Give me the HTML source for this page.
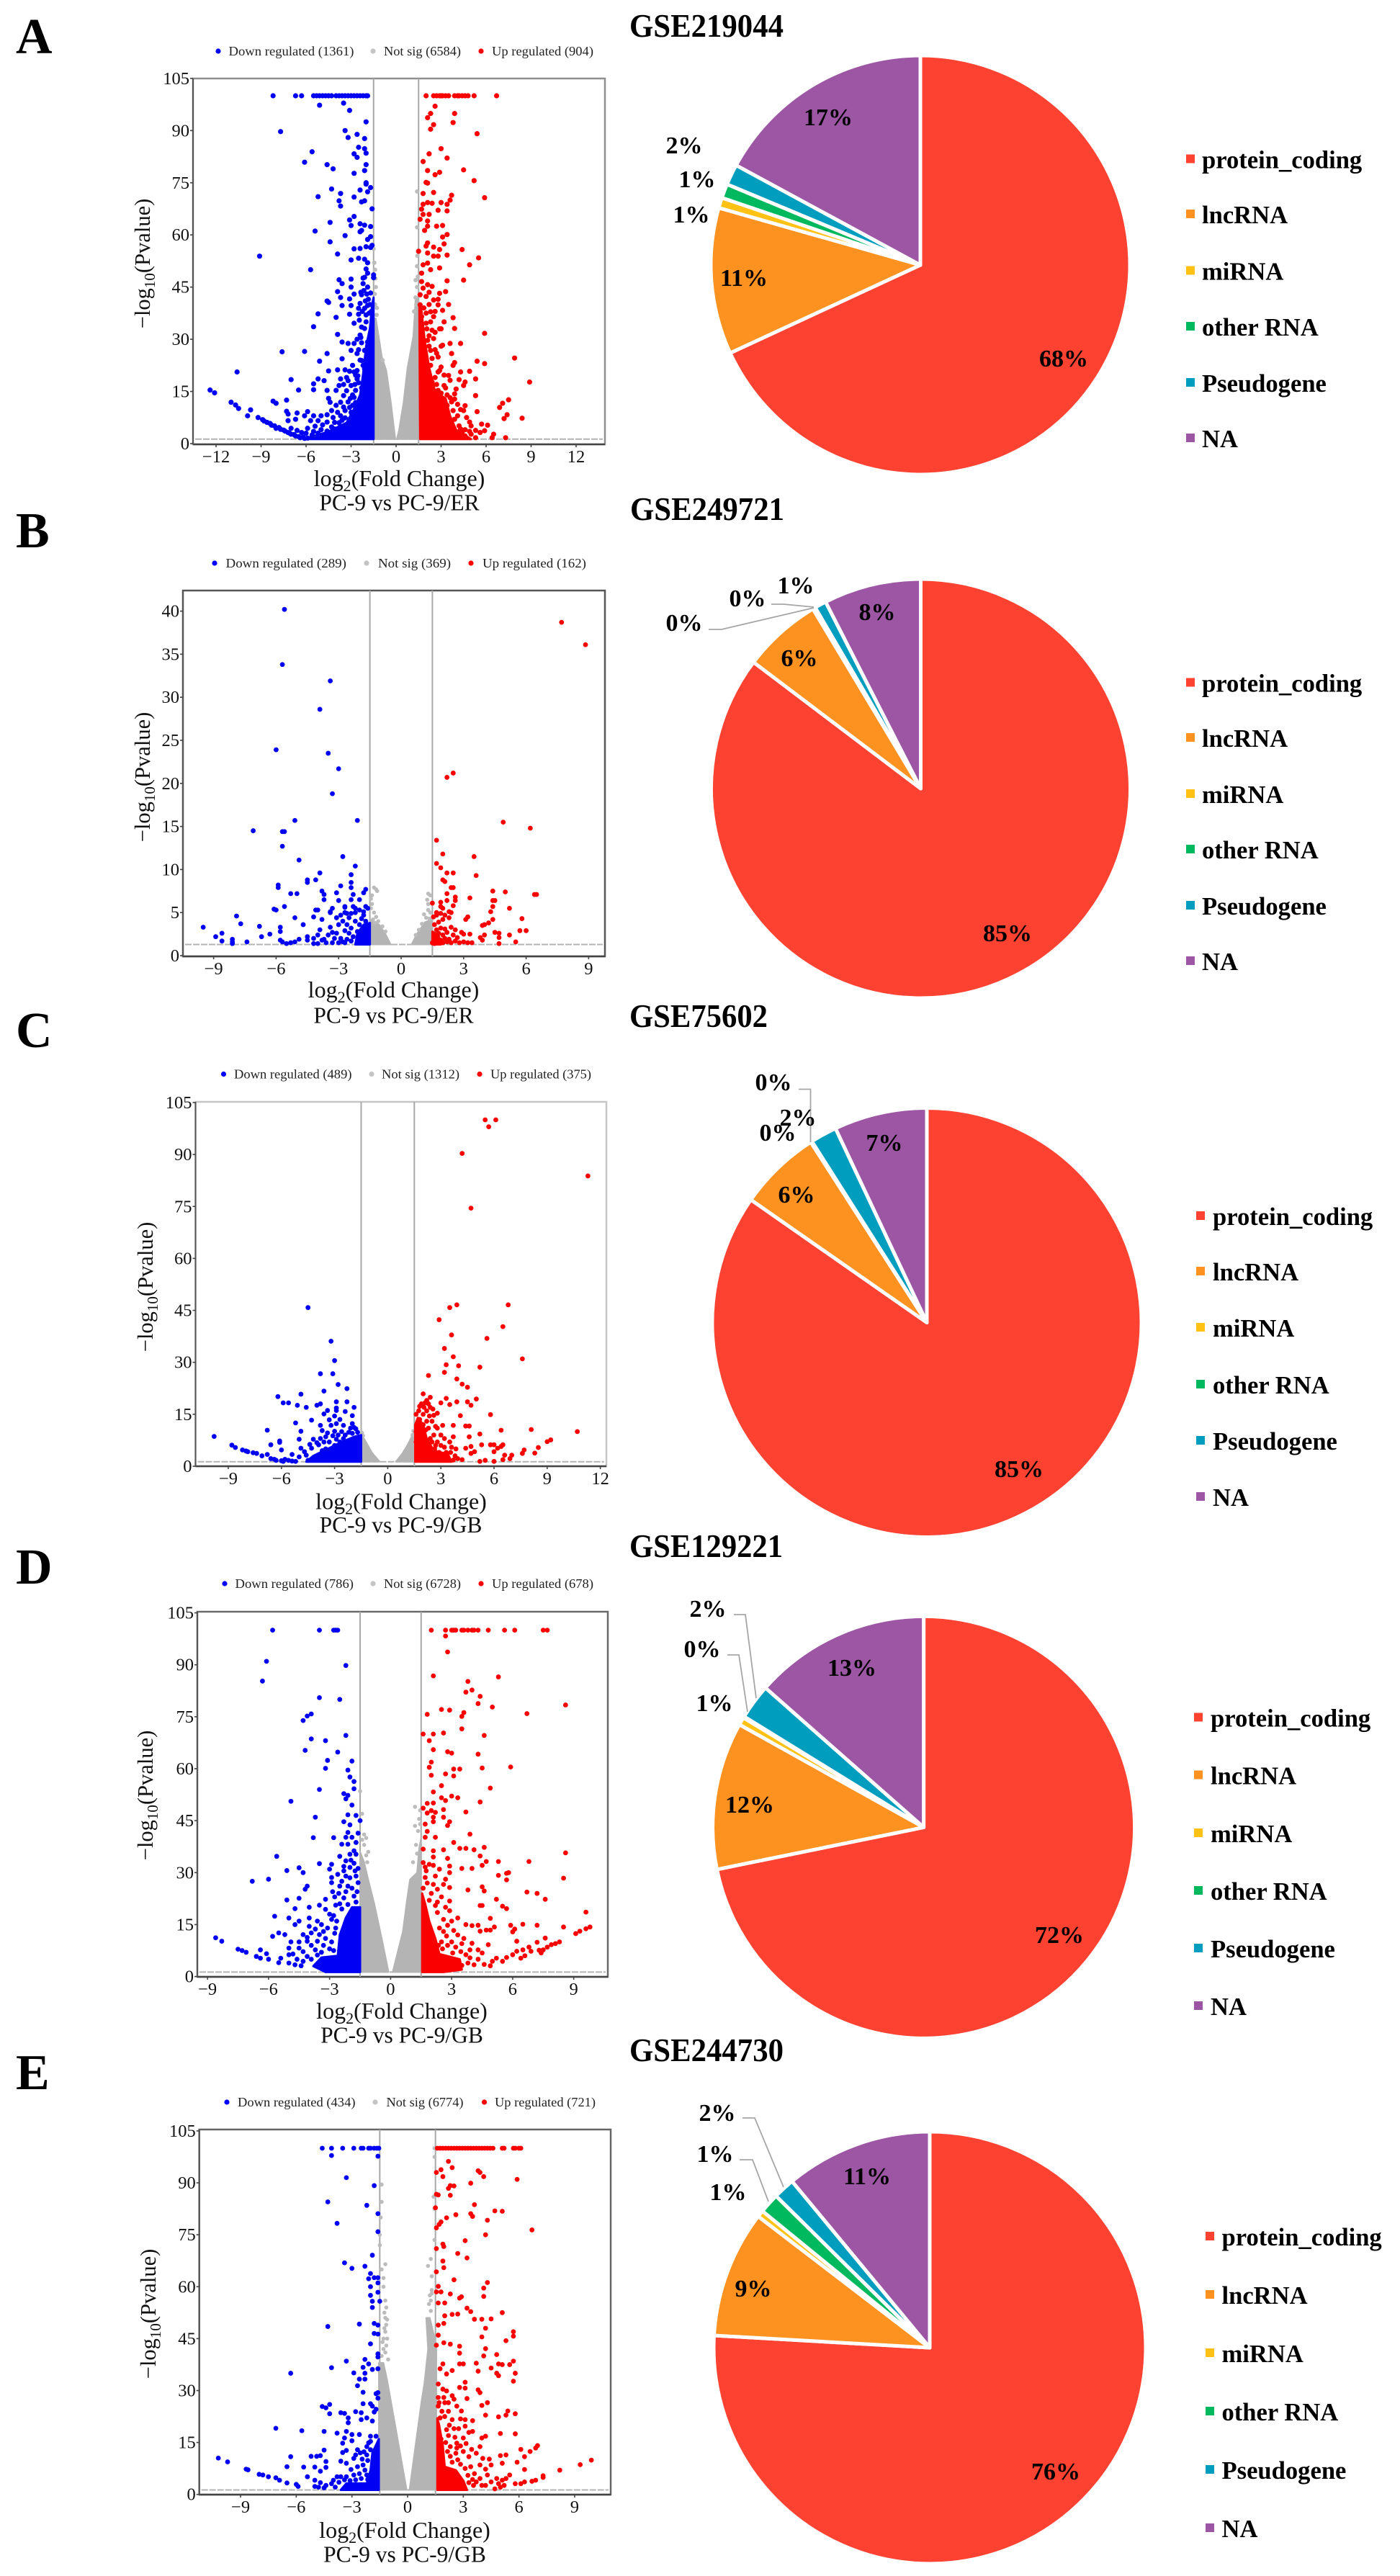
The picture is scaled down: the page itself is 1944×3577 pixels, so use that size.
<!DOCTYPE html>
<html lang="en">
<head>
<meta charset="utf-8">
<title>Volcano plots and RNA biotype pies</title>
<style>
html,body{margin:0;padding:0;background:#fff;}
svg{display:block;font-family:"Liberation Serif",serif;}
.letter{font-size:70px;font-weight:bold;}
.gse{font-size:45px;font-weight:bold;}
.lg{font-size:17.6px;fill:#222;}
.xt{font-size:32px;fill:#111;}
.st{font-size:31.5px;fill:#111;}
.yt{font-size:30.5px;fill:#111;}
.tk{font-size:24.5px;fill:#111;}
.pl{font-size:34px;font-weight:bold;fill:#000;}
.pg{font-size:34.6px;font-weight:bold;fill:#000;}
</style>
</head>
<body>
<svg id="figure" xmlns="http://www.w3.org/2000/svg" width="1944" height="3577" viewBox="0 0 1944 3577">
<rect x="0" y="0" width="1944" height="3577" fill="#fff"/>

<text class="letter" x="22" y="74">A</text>
<text class="letter" x="22" y="760">B</text>
<text class="letter" x="22" y="1454">C</text>
<text class="letter" x="22" y="2199">D</text>
<text class="letter" x="22" y="2901">E</text>

<text class="gse" x="874" y="51" textLength="214" lengthAdjust="spacingAndGlyphs">GSE219044</text>
<text class="gse" x="875" y="722" textLength="214" lengthAdjust="spacingAndGlyphs">GSE249721</text>
<text class="gse" x="874" y="1426" textLength="192" lengthAdjust="spacingAndGlyphs">GSE75602</text>
<text class="gse" x="874" y="2162" textLength="213" lengthAdjust="spacingAndGlyphs">GSE129221</text>
<text class="gse" x="874" y="2862" textLength="214" lengthAdjust="spacingAndGlyphs">GSE244730</text>

<!-- Volcano legends -->
<g>
<circle cx="303" cy="71" r="3.6" fill="#0000ff"/><text class="lg" x="317.5" y="77" textLength="174" lengthAdjust="spacingAndGlyphs">Down regulated (1361)</text>
<circle cx="518" cy="71" r="3.6" fill="#c4c4c4"/><text class="lg" x="533" y="77" textLength="107" lengthAdjust="spacingAndGlyphs">Not sig (6584)</text>
<circle cx="668" cy="71" r="3.6" fill="#ff0000"/><text class="lg" x="683" y="77" textLength="141" lengthAdjust="spacingAndGlyphs">Up regulated (904)</text>
</g>
<g>
<circle cx="298" cy="782" r="3.6" fill="#0000ff"/><text class="lg" x="313.5" y="788" textLength="167.5" lengthAdjust="spacingAndGlyphs">Down regulated (289)</text>
<circle cx="509" cy="782" r="3.6" fill="#c4c4c4"/><text class="lg" x="525" y="788" textLength="101" lengthAdjust="spacingAndGlyphs">Not sig (369)</text>
<circle cx="654" cy="782" r="3.6" fill="#ff0000"/><text class="lg" x="670" y="788" textLength="144" lengthAdjust="spacingAndGlyphs">Up regulated (162)</text>
</g>
<g>
<circle cx="310.5" cy="1491.5" r="3.6" fill="#0000ff"/><text class="lg" x="325" y="1497.5" textLength="163.5" lengthAdjust="spacingAndGlyphs">Down regulated (489)</text>
<circle cx="516" cy="1491.5" r="3.6" fill="#c4c4c4"/><text class="lg" x="530" y="1497.5" textLength="108" lengthAdjust="spacingAndGlyphs">Not sig (1312)</text>
<circle cx="666" cy="1491.5" r="3.6" fill="#ff0000"/><text class="lg" x="681" y="1497.5" textLength="140" lengthAdjust="spacingAndGlyphs">Up regulated (375)</text>
</g>
<g>
<circle cx="312" cy="2199" r="3.6" fill="#0000ff"/><text class="lg" x="326.5" y="2205" textLength="164.5" lengthAdjust="spacingAndGlyphs">Down regulated (786)</text>
<circle cx="518" cy="2199" r="3.6" fill="#c4c4c4"/><text class="lg" x="533" y="2205" textLength="107" lengthAdjust="spacingAndGlyphs">Not sig (6728)</text>
<circle cx="668" cy="2199" r="3.6" fill="#ff0000"/><text class="lg" x="683" y="2205" textLength="141" lengthAdjust="spacingAndGlyphs">Up regulated (678)</text>
</g>
<g>
<circle cx="315" cy="2919" r="3.6" fill="#0000ff"/><text class="lg" x="330" y="2925" textLength="163.5" lengthAdjust="spacingAndGlyphs">Down regulated (434)</text>
<circle cx="521" cy="2919" r="3.6" fill="#c4c4c4"/><text class="lg" x="536.5" y="2925" textLength="107" lengthAdjust="spacingAndGlyphs">Not sig (6774)</text>
<circle cx="672.5" cy="2919" r="3.6" fill="#ff0000"/><text class="lg" x="687" y="2925" textLength="140" lengthAdjust="spacingAndGlyphs">Up regulated (721)</text>
</g>

<!-- Axis titles -->
<text class="yt" text-anchor="middle" transform="translate(208,366) rotate(-90)">−log<tspan font-size="21" dy="7">10</tspan><tspan dy="-7">(Pvalue)</tspan></text>
<text class="xt" x="554.5" y="675" text-anchor="middle">log<tspan font-size="22" dy="7">2</tspan><tspan dy="-7">(Fold Change)</tspan></text>
<text class="st" x="554.5" y="708.5" text-anchor="middle">PC-9 vs PC-9/ER</text>

<text class="yt" text-anchor="middle" transform="translate(208,1079) rotate(-90)">−log<tspan font-size="21" dy="7">10</tspan><tspan dy="-7">(Pvalue)</tspan></text>
<text class="xt" x="546.5" y="1385" text-anchor="middle">log<tspan font-size="22" dy="7">2</tspan><tspan dy="-7">(Fold Change)</tspan></text>
<text class="st" x="546.5" y="1420.5" text-anchor="middle">PC-9 vs PC-9/ER</text>

<text class="yt" text-anchor="middle" transform="translate(212,1787) rotate(-90)">−log<tspan font-size="21" dy="7">10</tspan><tspan dy="-7">(Pvalue)</tspan></text>
<text class="xt" x="557" y="2095.5" text-anchor="middle">log<tspan font-size="22" dy="7">2</tspan><tspan dy="-7">(Fold Change)</tspan></text>
<text class="st" x="556.5" y="2128" text-anchor="middle">PC-9 vs PC-9/GB</text>

<text class="yt" text-anchor="middle" transform="translate(212,2493) rotate(-90)">−log<tspan font-size="21" dy="7">10</tspan><tspan dy="-7">(Pvalue)</tspan></text>
<text class="xt" x="558" y="2803" text-anchor="middle">log<tspan font-size="22" dy="7">2</tspan><tspan dy="-7">(Fold Change)</tspan></text>
<text class="st" x="558" y="2836.5" text-anchor="middle">PC-9 vs PC-9/GB</text>

<text class="yt" text-anchor="middle" transform="translate(216,3213) rotate(-90)">−log<tspan font-size="21" dy="7">10</tspan><tspan dy="-7">(Pvalue)</tspan></text>
<text class="xt" x="562" y="3524" text-anchor="middle">log<tspan font-size="22" dy="7">2</tspan><tspan dy="-7">(Fold Change)</tspan></text>
<text class="st" x="562" y="3557.5" text-anchor="middle">PC-9 vs PC-9/GB</text>

<g id="plots"></g>
</svg>

<script>
// ---------- Shared categories ----------
const biotypeNames = ['protein_coding','lncRNA','miRNA','other RNA','Pseudogene','NA'];
const biotypeColors = ['#fd4232','#fe9220','#ffc114','#00b85e','#009dbe','#9c56a4'];
const thresholdFC = [-1.5, 1.5];
const thresholdP = 1.3;

// ---------- Pie values ----------
const pieAValues = [68.1,11.3,0.8,1.1,1.6,17.1];
const pieBValues = [85.3,6.1,0.1,0.1,0.9,7.5];
const pieCValues = [84.7,6.2,0.05,0.05,2,7];
const pieDValues = [71.8,11.3,0.6,0.1,2.7,13.5];
const pieEValues = [75.9,9.5,0.5,1.5,1.6,11];
const pieALabels = ['68%','11%','1%','1%','2%','17%'];
const pieBLabels = ['85%','6%','0%','0%','1%','8%'];
const pieCLabels = ['85%','6%','0%','0%','2%','7%'];
const pieDLabels = ['72%','12%','1%','0%','2%','13%'];
const pieELabels = ['76%','9%','1%','1%','2%','11%'];

// ---------- Tick labels ----------
const yTicks105 = [0,15,30,45,60,75,90,105];
const yTicks40 = [0,5,10,15,20,25,30,35,40];
const xTicksA = [-12,-9,-6,-3,0,3,6,9,12];
const xTicksB = [-9,-6,-3,0,3,6,9];
const xTicksC = [-9,-6,-3,0,3,6,9,12];
const xTicksD = [-9,-6,-3,0,3,6,9];
const xTicksE = [-9,-6,-3,0,3,6,9];

// ---------- Panel A values: [log2FC, -log10P] ----------
const aDown = [[-8.2,100],[-6.7,100],[-6.3,100],[-5.5,100],[-5.3,100],[-5.1,100],[-4.9,100],[-4.7,100],[-4.5,100],[-4.3,100],[-4,100],[-3.8,100],[-3.6,100],[-3.4,100],[-3.2,100],[-3,100],[-2.8,100],[-2.6,100],[-2.4,100],[-2.2,100],[-2,100],[-1.9,100],
[-5.1,97.3],[-3.5,97.9],[-3.1,95.8],[-2,92.5],[-7.7,89.7],[-3.4,90],[-2.6,88.9],[-3.2,88],[-2.1,87.7],[-2.5,85.2],[-2.1,84.8],[-5.6,83.9],[-2.8,83.3],[-2,83.5],[-2.6,82.3],[-6.1,80.9],[-4.6,80.2],[-4.2,79],[-2,80.2],[-2.1,78.5],[-2.8,77.7],[-2,75],[-2,74.6],[-1.7,73.6],[-4.3,73.2],[-2.4,72.9],[-1.9,72.4],[-3.7,71.9],[-5.2,71],[-2.8,70.9],[-3.8,69.8],[-2.1,69.8],[-2.3,69.5],[-3.7,68.3],[-1.6,67.5],[-2.8,65.3],[-3.1,64.3],[-4.4,63.6],[-2.4,63.2],[-3,62.7],[-2.1,62.8],[-1.7,62.4],[-2.3,61.3],[-5.4,61.1],[-2.4,60.9],[-3.4,59.8],[-1.7,59.5],[-1.9,58.7],[-4.4,58],[-2,56.6],[-2.8,56],[-2.4,56.1],[-1.7,56.4],[-1.6,57],[-3.9,54.5],[-9.1,53.9],[-3,52.8],[-2.5,53.3],[-2.1,53],[-1.9,52],[-5.7,50],[-2,50.2],[-1.9,49],[-2.1,47.8],[-1.5,47.7],
[-3.8,47.1],[-3,47.3],[-3.6,46],[-2.2,47.6],[-1.5,48.5],[-2.2,46],[-1.9,45],[-3,45],[-3.9,43.7],[-2.8,43],[-1.7,43.3],[-2.3,42.8],[-3.7,42],[-4.6,41],[-4.5,40.6],[-3.1,41.6],[-3.6,39.7],[-2.4,40.3],[-1.9,39.7],[-2.1,38.9],[-2.5,38.9],[-3,39.7],[-3.1,37.2],[-5.2,37.3],[-4,36.3],[-2.5,37.2],[-2,37],[-2.8,34.6],[-5.5,33.6],[-3.9,31.4],[-2,35],[-2.1,33.1],[-2.4,31.2],
[-3.6,29.2],[-3.2,28.8],[-2.8,28.8],[-2.3,29],[-1.9,29.2],[-3,26.8],[-7.6,26.4],[-6.1,26.5],[-4.6,25.9],[-2.6,25.9],[-2.1,26.8],[-3.6,24.4],[-5.1,23.7],[-2.3,23.9],[-1.7,24.4],[-10.6,20.6],[-4.5,20.9],[-3.9,21.2],[-3.1,20.8],[-2.8,20.6],[-2.1,21.5],[-7,18.4],[-5.2,18.6],[-4.8,18.1],[-3.7,18.6],[-3.2,18.1],[-2.6,18.6],[-1.9,19.6],[-5.5,17.2],[-3.8,16.7],[-3,16.7],[-2.1,17.2],[-6.5,15.4],[-5.5,15.5],[-4.6,15.3],[-12.4,15.4],[-12.1,14.6],[-4,15.3],[-2.7,15.3],[-3.5,13.8],[-4.5,13],[-2.8,13.3],[-11,11.9],[-7.3,12.5],[-8.2,12.2],[-8,11.6],[-4.4,11.9],[-3.7,11.9],[-10.7,11.1],[-10.5,10.1],[-9.7,9.7],[-9.9,8],[-7.3,9.3],[-7.2,8.5],[-6.6,8.8],[-5.9,9.2],[-6.1,8],[-5.5,8],[-5,8],[-4.6,8.3],[-3.7,8],[-5.7,6.6],[-5.2,6.6],[-6.7,7],[-7.2,6.6],[-4.1,6.1],
[-9.2,7.5],[-8.9,6.9],[-8.6,6.1],[-8.3,5.3],[-8.1,5.1],[-7.8,4.6],[-7.5,3.9],[-7.2,3.2],[-7,2.7],[-6.7,2.2],[-6.4,1.7],[-6.1,1.5],[-8.8,6.5],[-8.4,5.8],[-8,4.4],[-7.7,4.1],[-7.4,3.6],[-7.1,3],[-6.8,2.6],[-6.5,2],[-6.2,1.9],[-5.9,1.6],[-6,3],[-5.5,3.5],[-5,4],[-5.6,2.5],[-4.8,2.5],[-4.3,4.8],[-3.7,5],[-3.1,7],[-3,9],[-3.4,9.5],[-3.2,12],[-2.6,9],[-2.9,11],
[-2.3,16],[-2.5,17.5],[-2.6,21],[-2.4,24],[-2.5,27],[-2.35,30.5],[-2.6,30],[-2.3,33.5],[-2.45,35.5],[-2.25,38],[-2.05,41],[-2.15,44],[-2.35,43.5],[-1.85,41.5],[-1.8,37.5],[-2.2,22.5],[-2.7,19.7],[-2.9,14],[-3.3,15.2],[-3.5,17],[-3.3,19],[-3.4,21.2],[-2.9,22.5],[-2.7,11.8],[-3.1,10.4],[-3.5,10.5],[-4,11],[-4.3,9.5],[-3.9,9],[-4.2,7.5],[-3.6,6.7],[-4.6,6.2],[-4.9,5.4],[-5.4,5],[-5.9,4.4],[-5.2,3],[-4.6,3.6],[-4.1,4.2],[-3.8,6],[-3.4,7.4],[-2.95,8.6],[-6.3,3.2],[-6.6,3.8],[-7,4.4],[-1.75,40],[-1.65,38],[-1.95,43],[-2.55,19.5],[-2.75,17],[-3.05,13]];
const aDownDense = [[-1.5,1.3],[-6.2,1.3],[-4.6,3.3],[-3.3,6],[-2.8,10],[-2.4,14],[-2.2,20],[-2,28],[-1.75,33],[-1.6,40],[-1.5,42]];
const aUp = [[2,100],[2.5,100],[2.7,100],[2.9,100],[3,100],[3.1,100],[3.3,100],[3.5,100],[3.9,100],[4.1,100],[4.2,100],[4.4,100],[4.6,100],[4.8,100],[5.2,100],[6.7,100],
[2.6,97],[2.3,94.9],[3.9,94.9],[2.1,93.7],[3.8,92.3],[2.5,91.7],[2.3,90.4],[5.4,89.1],[3,84.8],[2.2,83.3],[3.4,82.1],[1.8,81.1],[4.5,78.7],[2.1,78.5],[2.9,78],[2.6,77.3],[5.2,75.6],[2,75.1],[2.1,74.9],[1.8,71.9],[2.5,72.2],[3.7,71.4],[5.9,70.7],[3.6,70],[1.8,68.8],[2.1,69.3],[2.4,69.1],[3,69.3],[3.4,68.8],[1.7,67.4],[2.8,67.1],[3.4,66.9],[1.8,65.9],[2.2,65.9],[1.6,64.5],[2.1,64],[2.1,62.5],[2.7,62.5],[3.1,62.7],[1.9,61.3],[3.4,60.1],[3.1,59.4],[2.1,57.7],[3.2,57.4],[2,56.8],[2.5,56.5],[2.9,55.8],[4.4,55.8],[1.5,55.3],[2.1,54.8],[2.5,53.9],[2.8,53.9],[3.4,54.2],[5.5,53.4],[4.9,51.4],[1.8,51.4],[2.1,51.9],[1.7,49],[2.3,50],[2.9,50.5],[4.5,47],[3.4,46.8],
[1.7,46.6],[2.1,45.7],[2.4,45.2],[1.8,44.7],[2.9,43.2],[1.6,42.8],[2,42.3],[2.5,41.3],[3.5,40],[1.6,39.9],[2.8,39.9],[2.3,37.9],[1.7,36.5],[3.8,36.2],[2.5,36.5],[2,34.6],[3.2,35],[3.9,33.1],[2.4,32.6],[5.9,31.7],[1.7,31.2],[2.1,29.7],[2.5,30.2],[4.3,28.8],[3.1,28.3],[3.6,28.8],[2.3,26.8],[3.7,25.9],[1.7,25.4],[2.8,24.9],[7.9,24.6],[5.4,23.7],[5.9,23],[3.9,23.3],[3.8,22.5],[2.3,22.5],[4.9,20.8],[4.3,20.6],[2.8,20.6],[3.5,19.6],[5.3,18.6],[4.2,18.4],[8.9,17.7],[4.6,17.7],[4.5,16.7],[2.4,17.7],[3.2,16.7],[4,15.7],[2.8,15.3],[5.3,13.8],[3.9,14.3],[7.5,12.6],[7.1,11.6],[6.9,10.4],[4.6,10.9],[5.4,9.2],[7.4,8.3],[7.2,7.2],[8.4,7.3],[4.5,9.5],[3.8,9.5],[5,5.1],[4.2,5.1],[5.7,5.6],[6.1,5.3],[5.9,3.7],[6.4,1.7],[7.3,1.7],[5.6,3.2],[5,2.7],[4.6,2.2],[3.8,3.7],[4.3,4.2],[6.5,2.7],[3.9,7],[5.3,1.7],[3.3,16],[3,22],[2.6,27],[2.2,31],[2.9,33],[3.4,11],[3.7,12],[4.1,8],[4.6,4],
[2.3,15.5],[2.7,17],[3,14.5],[3.4,14],[3.6,13.2],[2.6,19],[2.9,21],[3.2,19.7],[3.6,18.2],[3.9,12.8],[4.1,11.3],[4.3,9.8],[4.7,7.5],[4.9,6.2],[3.7,6],[4.4,3.2],[4.9,3.5],[5.3,3.8],[2.4,24.5],[2.7,26],[3,28],[2.2,28],[2.6,32],[2.3,35],[3,33],[2.6,38],[2.2,40],[2.8,41.5],[2.2,43.5],[3.3,43.7],[3.1,38.3],[2,37.5],[1.85,39],[2.05,33],[1.9,28]];
const aUpDense = [[1.6,1.3],[5,1.3],[4,4],[3.6,8],[3.3,13],[2.6,15],[2.2,22],[1.9,30],[1.7,38],[1.55,40]];
const aGray = [[-1.5,56],[-1.4,50],[-1.35,45],[-1.4,40],[-1.3,37],[-0.9,24],[-1.45,52],[-1.38,47.5],[-1.42,43],[-1.28,39],[1.4,72.5],[1.4,62.2],[1.4,51],[1.3,47],[1.4,45],[1.3,42],[1.2,38],[1.35,40],[1.45,48],[1.42,54]];
const aGrayLeft = [[-0.05,1.3],[-0.35,12],[-0.65,21],[-0.95,25],[-1.2,32],[-1.35,36],[-1.5,36],[-1.5,1.3]];
const aGrayRight = [[0.05,1.3],[1.5,1.3],[1.5,42],[1.3,42],[1.15,31],[0.75,21.5],[0.5,12],[0.2,4]];

// ---------- Panel B values ----------
const bDown = [[-5.6,40.2],[-5.7,33.8],[-3.4,31.9],[-3.9,28.6],[-6,23.9],[-3.5,23.5],[-3,21.7],[-3.3,18.8],[-5.1,15.7],[-2.1,15.7],[-7.1,14.5],[-5.7,14.4],[-5.6,14.4],[-5.7,12.7],[-4.9,11.1],[-2.8,11.5],[-2.2,10.4],[-3.9,9.6],[-2.4,9.4],[-4.5,8.8],[-4.1,8.8],[-4.5,8.5],[-2.4,8.5],[-5.9,8.2],[-5.9,7.9],[-2.9,8.1],[-2.4,7.9],[-3.8,7.5],[-1.7,7.7],[-1.8,7.3],[-5.3,7.2],[-5,7.2],[-3.7,7.1],[-3.1,7.3],[-2.3,7.1],[-2,6.5],[-3.7,6.5],[-3,6.4],[-2.4,6.5],[-5.6,5.7],[-6.1,5.4],[-6,5.3],[-3.3,5.5],[-4.1,5.3],[-4,5.3],[-2.7,5.7],[-2.2,5.5],[-1.7,5.7],[-7.9,4.6],[-5.1,4.4],[-4.2,4.5],[-3.4,5.1],[-3.1,4.4],[-2.7,5],[-2.4,4.9],[-2,5.3],[-1.8,4.7],[-3.8,4.2],[-7.7,3.7],[-4.7,3.6],[-6.8,3.4],[-9.5,3.3],[-5.8,3.3],[-5.8,2.8],[-6.3,2.5],[-8.6,2.6],[-8.9,2.2],[-6.7,2.2],[-8.6,1.7],[-8.1,1.9],[-8.1,1.6],[-7.4,1.6],[-8.1,1.4],[-5.8,1.8],[-5.7,1.6],[-5.5,1.4],[-5.3,1.5],[-5.1,1.6],[-4.9,1.9],[-4.5,2.2],[-4.5,1.8],[-4.2,2],[-4,2.4],[-4.2,1.4],[-3.9,3],[-3.8,1.8],[-4,1.4],
[-3.4,3.3],[-3.3,2.7],[-3.2,2],[-3.1,2.6],[-3,3.6],[-2.9,2],[-2.8,4],[-2.8,1.6],[-2.7,2.9],[-2.6,1.9],[-2.6,3.6],[-2.5,4.4],[-2.5,2.6],[-2.4,1.7],[-2.4,3.2],[-2.3,2.2],[-2.2,4],[-2.2,5],[-2.1,2.8],[-2,3.6],[-2,1.8],[-1.9,4.3],[-1.9,2.6],[-1.8,3.3],[-1.8,5.1],[-1.7,2],[-1.7,4],[-1.6,3],[-1.6,5.5],[-3.6,1.5],[-3.3,1.5],[-3,1.5],[-2.7,1.5],[-3.5,2.4],[-3.7,1.9],[-3.4,5],[-2.9,4.7],[-2.7,5.6],[-2.3,5.7],[-2.6,4.9],[-3.1,4.4]];
const bDownDense = [[-1.5,1.3],[-2.2,1.3],[-2.1,2.6],[-1.8,3.6],[-1.5,3.8]];
const bUp = [[7.7,38.7],[8.85,36.1],[2.5,21.2],[2.2,20.7],[4.9,15.5],[6.2,14.8],[1.7,13.4],[2,11.8],[3.5,11.5],[1.7,10.7],[1.9,10.2],[2.2,9.6],[2.5,9.6],[3.6,9.3],[2,8.8],[2.1,8.6],[2.4,7.9],[2.5,7.9],[4.4,7.5],[5,7.4],[6.5,7.1],[6.4,7.1],[2.2,7.2],[2.6,6.8],[3.3,6.7],[2.2,6.4],[2.6,6.4],[4.4,6.4],[4.5,6.4],[1.5,6.1],[1.9,6.2],[2.5,5.8],[1.9,5.7],[4.4,5.7],[5.2,5.5],[4.3,5.1],[2.3,5.1],[1.9,4.9],[2.1,4.7],[1.7,4.7],[4.4,4.2],[5.8,4.3],[3.2,4.5],[3.1,4.2],[4.2,3.8],[3.9,3.5],[4,3.6],[5.7,2.9],[6,2.9],[4.5,2.7],[4.7,2.6],[4,2.4],[5.2,2.4],[4.7,2.1],[3.8,2.1],[3,2.5],[3.3,2.5],[4.7,1.4],[5.5,1.6],[3.9,1.8],
[1.5,1.5],[1.6,2.5],[1.6,3.6],[1.6,1.8],[1.7,2.1],[1.7,3],[1.8,1.5],[1.8,3.9],[1.8,2.6],[1.9,1.8],[1.9,3.2],[2,1.5],[2,2.4],[2,4.2],[2.1,2],[2.1,3.1],[2.2,1.6],[2.2,2.7],[2.3,4.4],[2.3,1.9],[2.4,3.3],[2.4,1.5],[2.5,2.4],[2.6,1.7],[2.6,3],[2.7,2.1],[2.8,1.5],[2.9,2.7],[3,1.6],[3.2,1.5],[3.4,1.5],[1.55,4.5],[1.7,5],[2,5.5],[2.4,5],[1.6,1.4]];
const bUpDense = [[1.5,1.3],[1.9,1.3],[1.8,2.4],[1.5,2.8]];
const bGray = [[-1.3,7.9],[-1.2,7.7],[-1.15,7.5],[-1.4,7],[-1.4,6],[-1.3,5],[-1.2,4.5],[-1.45,5.5],[-1.1,4],[-0.9,3.4],[-1.35,4.2],[-1.45,6.6],[-1.25,3.8],[-0.75,2.8],[1.3,7.2],[1.4,7],[1.25,6.5],[1.3,6],[1.3,5.3],[1.1,4.8],[1.4,5],[1.2,4.4],[1,3.7],[0.85,3],[1.35,4.3],[0.7,2.4]];
const bGrayLeft = [[-1.5,1.3],[-0.5,1.3],[-0.75,2.5],[-1.05,3.6],[-1.5,4.2]];
const bGrayRight = [[0.5,1.3],[1.5,1.3],[1.5,4.2],[1.15,3.9],[0.75,2.5]];

// ---------- Panel C values ----------
const cDown = [[-4.5,45.8],[-3.2,36.1],[-3,30.5],[-3.8,26.7],[-3.1,26.7],[-2.8,23.6],[-2.3,22.4],[-3.6,21.7],[-4.9,20.8],[-6.2,20.1],[-5.9,18.3],[-5.6,18.3],[-5.1,17.6],[-4,17.6],[-3.8,18],[-2.9,18.6],[-2.3,18.6],[-4.6,17],[-1.9,17],[-2.9,16.8],[-3.4,16.1],[-2.9,16.1],[-2.4,15.8],[-3.6,15.1],[-3,14.5],[-2,14.6],[-4.3,13.3],[-5.2,12.5],[-3.8,11.8],[-3.2,11.8],[-2.9,12.3],[-2.5,11.8],[-2,12.3],[-6.8,10.4],[-4.9,10.1],[-3.7,10.3],[-3,10.1],[-1.8,10.8],[-2.2,9.8],[-6.1,7.3],[-6.1,6.9],[-5,7.8],[-4.2,7.8],[-3.5,8.5],[-9.8,8.6],[-8.8,6.1],[-8.6,5.4],[-8.2,4.7],[-7.9,4.2],[-7.4,3.7],[-7.1,3],[-6.8,3.4],[-6.6,6.2],[-6,4.7],[-5.4,3.4],[-4.9,5.2],[-6.6,2.2],[-6.3,1.7],[-5.9,1.4],[-5.6,1.7],[-5.2,1.4],[-5,2.7],[-4.6,3.2],[-4.3,5.2],[-3.9,6.2],[-4.5,1.7],[-4.2,2.2],[-3.5,5],[-3,6],[-2.5,8],[-2.8,9],[-2,9.5],[-3.3,7],[-2.7,7],[-3.7,4.5],[-7.6,3.9],[-8,4.4],[-6.4,2],[-6,1.6],[-5.8,2],[-5.4,1.5],
[-2.6,10],[-2.4,9],[-3.1,8.8],[-3.4,9.6],[-3.8,8],[-4,6.8],[-4.4,6.3],[-4.7,4.2],[-3.6,7],[-2.9,7.8],[-2.1,11],[-1.7,9.8],[-1.9,11.2],[-2.7,13.5],[-3.3,13.4]];
const cDownDense = [[-1.5,1.3],[-4.6,1.3],[-4.2,3],[-3.4,5],[-2.6,7],[-1.9,8.5],[-1.5,9]];
const cUp = [[5.5,100],[6.1,100],[5.7,98],[4.2,90.3],[11.3,83.8],[4.7,74.5],[3.9,46.6],[6.8,46.6],[3.5,45.8],[2.9,42.3],[6.5,40.3],[3.6,37.9],[5.6,36.9],[3.2,34],[3.7,31.6],[7.6,31],[3.3,29.3],[4,29],[5.2,28.6],[3.2,27.1],[2.3,26.2],[3.9,25.2],[4.2,23.7],[4.5,22.8],[2,20.9],[2.4,19.9],[3.3,19.6],[5,19.4],[3.9,18.6],[4.5,18.6],[3,18.3],[4.7,17.6],[3.5,17.8],[1.8,17.3],[2.1,18.3],[5.8,14.9],[4.1,14.6],[2.8,15.3],[4.4,11.6],[4.6,11.6],[3.7,11.8],[3.1,11.8],[8.1,10.6],[6.4,10.4],[10.7,10],[5.2,9.3],[4.6,8.5],[9.2,7.6],[9,7.1],[8.5,5.4],[8.3,3.8],[7.7,4.7],[7.6,3.7],[7,3.2],[6.9,2.2],[6.5,6.2],[5.8,6.2],[6,6.2],[6.2,5.2],[6.4,5.7],[6,4.2],[5.3,6.2],[4.7,5.7],[4.4,5.2],[4.9,4.2],[4.7,3.7],[4.2,1.9],[5.2,1.4],[5.5,1.7],[6,1.4],[6.5,1.9],[6.6,3.2],
[1.6,10],[1.7,12],[1.8,13.5],[2,15],[2.2,16],[1.7,8],[2,9],[2.3,11],[2.6,9],[2.8,11],[3,9],[3.2,8],[3,6],[3.5,7],[2.7,6],[3.3,4],[3.6,5.5],[1.9,18],[2.4,17],[2.2,19],[2.5,13],[2.8,7],[3.8,3],[3.4,2.5],[2,12],[1.6,7],[2.5,7],[2.2,13],[3.1,2.5],[2.9,4],[3.7,8.5],
[1.6,15],[1.75,16],[1.85,11],[2.15,10.5],[2.35,14.5],[2.55,16.5],[2.7,11.5],[2.4,8],[2.65,5],[3.2,5.5],[3.55,4],[3.85,5],[3.7,1.8],[3.95,2.2],[2.05,17],[2.3,18],[2.6,14.7]];
const cUpDense = [[1.55,1.3],[3.6,1.3],[3.4,3.5],[2.6,4.5],[2.2,8],[2,12],[1.7,14],[1.55,12]];
const cGray = [[-1.45,9.6],[-1.4,8.8],[1.45,10.2],[1.4,9]];
const cGrayLeft = [[-1.5,1.3],[-0.45,1.3],[-0.9,4],[-1.5,9.5]];
const cGrayRight = [[0.45,1.3],[1.5,1.3],[1.5,10],[1.1,6],[0.8,3.5]];

// ---------- Panel D values ----------
const dDown = [[-5.8,100],[-3.5,100],[-2.8,100],[-2.7,100],[-2.6,100],[-6.1,91],[-2.2,89.8],[-6.3,85.3],[-3.5,80.5],[-2.5,80],[-3.9,75.8],[-4.1,75.2],[-4.3,73.9],[-3.9,68.6],[-3.2,68.1],[-2.2,69.6],[-4.2,65.3],[-2.6,64.8],[-3.1,62.4],[-1.9,62.2],[-3.2,60.1],[-2.1,59.6],[-2,57.6],[-1.8,56.3],[-3.5,54],[-1.8,54.2],[-2.3,52.8],[-2.1,52.3],[-2.2,51.3],[-4.9,50.6],[-1.9,49.5],[-2.1,46.7],[-1.7,46.5],[-3.7,46],[-1.5,45],[-2.3,44.7],[-2,43.8],[-1.6,41.4],[-2.1,41.6],[-3.8,40.1],[-2.8,40.1],[-2.2,40.2],[-1.9,40.2],[-2.4,38.2],[-2.1,38.2],[-1.7,38.7],[-1.8,36.3],[-1.7,35.3],[-2,35.3],[-2.5,34.7],[-5.6,34.7],[-2.2,33.4],[-2.9,32.4],[-3.5,32.6],[-1.8,32.7],[-3,31],[-5.1,30.6],[-4.5,31.4],[-4.3,30],[-2.3,30.5],[-6.8,27.5],[-6,28.1],[-2.9,28.6],[-2.2,29],[-1.7,29],[-4.1,26.1],[-4.2,25.2],[-2.9,27.1],[-2.5,26.1],[-1.6,27.1],[-2.1,26.1],[-5.1,22.1],[-4.5,22.6],[-3.2,22.3],[-2.3,22.7],[-1.8,23.2],[-4.7,19.6],[-4,20],[-3.5,20.6],[-2.7,20.6],[-2.1,20.8],[-3.2,19.4],[-5.7,17.4],[-5,16.9],[-4,16.9],[-3.6,16],[-4.5,16],[-2.9,16.5],[-4.7,15],[-4,14.5],[-3.4,15],[-5.8,11.6],[-5.5,12.6],[-5.2,12.1],[-8.6,11.2],[-8.3,10.2],[-4.9,10],[-4.3,12.1],[-3.9,12.6],[-3.5,12.1],[-4.1,10.2],[-3.6,10.2],[-5,8.2],[-4.5,8.2],[-7.5,7.9],[-7.3,7.5],[-7.1,7],[-6.4,7.7],[-6.1,6.6],[-6.6,5.8],[-6.4,5.3],[-6,5],[-5.4,5.3],[-5,6.3],[-4.6,5],[-5.5,4],[-5,3.9],[-4.4,3.1],[-4.7,3.4],[-4.1,5.8],[-3.7,7.7],[-3,18],[-2.7,14],[-3.2,11],[-3,8],[-3.3,9],
[-2.5,21],[-2.2,24.5],[-1.9,25.5],[-2.4,27.5],[-2,28.5],[-2.6,29.5],[-2.3,31.8],[-2,31.5],[-2.55,24],[-2.85,24.5],[-2.75,23],[-2.4,19.5],[-2.8,17.6],[-3.1,14],[-3.3,13],[-3.7,13.7],[-4.1,11.3],[-4.5,10],[-3.9,9],[-3.4,7],[-4.3,7.2],[-4.8,6.5],[-3.9,5],[-4.3,4.4],[-3.6,6.2],[-2.8,7.5],[-2.9,10],[-2.75,12.5],[-2.65,16],[-1.7,21.5],[-1.65,24.5],[-1.75,30.5],[-1.95,33.6],[-1.6,31.2]];
const dDownDense = [[-1.5,1.3],[-3.2,1.3],[-3.8,3],[-3.4,5.5],[-2.6,6],[-2.5,12],[-2.2,17],[-1.9,20],[-1.5,20]];
const dUp = [[2,100],[2.7,100],[3,100],[3.1,100],[3.2,100],[3.5,100],[3.6,100],[3.8,100],[4,100],[4.1,100],[4.3,100],[4.8,100],[5.6,100],[6.1,100],[7.5,100],[7.7,100],
[2.7,98.3],[2.8,93.7],[2.1,86.8],[5.3,86.5],[3.8,85.2],[4,82.7],[3.7,82.1],[4.4,80.9],[4.3,78.8],[5,77.8],[8.6,78.4],[2.5,77.1],[2.9,76.9],[1.8,75.7],[3.6,76.2],[3.5,75.1],[6.7,75.9],[3.5,71.5],[2.6,70.3],[1.6,70],[2.1,70],[4.6,69.6],[1.9,68.1],[2.1,65.5],[2.8,64.9],[3,64.5],[4.3,64.2],[2,61.9],[1.9,60.4],[3.1,59.9],[3.4,59.9],[4.5,60.2],[5.9,60.5],[2.7,58.5],[2,58.1],[3.1,57.9],[2.5,55.1],[4.9,54.4],[2.1,53.3],[3,52.1],[3.3,51.6],[2.5,51.6],[2.7,50.8],[2.1,50.1],[1.8,50],[4.4,50.4],[1.6,48.6],[2.6,48.2],[3.7,47.5],[2,47.9],[1.8,47.2],[2.2,47.4],[2.6,46],[2.1,46],[1.7,44],[2.9,44.7],[2.8,43.6],[2.1,44.7],[3.9,41.1],[1.8,41.9],[1.7,40.2],[2.2,40.2],[3.1,38.7],[1.6,36.8],[2.1,36.3],[2.6,36.6],[3.4,37],[3.7,37],[4.1,36.6],[4.6,37.3],[8.6,35.7],[4.4,34.8],[2.8,34.1],[4.7,33.2],[5.3,33.2],[6.8,33.2],[1.6,32.9],[1.9,32.4],[2.1,32.1],[2.9,31.9],[4.5,32.1],[3.5,31.2],[4,31.2],[5.8,30],[5.7,29.8],[5.3,29.2],[2.9,30],[8.5,28.4],[5.7,27.9],[1.7,28.6],[2.7,28.1],[2.1,26.6],[2.6,26.6],[4.5,25.9],[4.6,24.7],[3.8,25],[6.7,24.4],[7.2,24],[2.9,25.7],[2.3,25.2],[7.6,22.3],[5.2,22.3],[2.9,21.8],[4.4,20.5],[4.5,20.5],[5.5,20.3],[5.7,19.6],[9.6,18.6],[4.9,16.8],[3.3,16.9],[3.7,15],[6.5,15.1],[7.2,14.8],[5.9,14.8],[4.3,14.8],[4,14.7],[5.1,14.3],[8.5,14.3],[9.8,14.3],[9.6,13.8],[9.3,13.1],[9.1,12.4],[6.1,13.7],[6,12.9],[4.7,13.4],[4.9,13.4],[4.4,13.1],[7.6,11.1],[8.3,10],[8.1,9.5],[7.9,9.2],[7.7,8.5],[7.5,7.7],[7.3,7.6],[7.2,9.9],[6.8,8.5],[6.5,7.7],[6.2,10.2],[6.9,7.3],[7.4,6.8],[6.2,7.3],[6,6.3],[6.6,6],[6.4,5.3],[5.7,5.5],[5.5,4.4],[5.2,5.3],[5,4.4],[4.9,3.1],[4.3,7.7],[4.5,6.8],[4.8,9.2],[3.9,7.7],[3.7,6.3],[4.1,3.4],[3.8,3.9],[3,16],[2.7,20],[3,10],[2.6,13],[2.9,19],[2.5,23],[3.3,12],[3.2,8.5],
[2.3,18.5],[2.6,16.5],[2.4,14],[2.8,14.8],[3.1,13.3],[2.5,10],[2.8,9],[3.5,9.5],[2.3,21.5],[2,24],[1.8,27],[2.2,29],[2.4,31],[1.75,30.5],[2.1,34.5],[1.9,22],[2.2,20.5],[2.75,11.7],[2.35,9],[3.45,7.2],[3.9,5.4],[4.3,5],[4.6,3.5],[3.5,3.2],[3.05,6.8],[4,9.6],[3.6,11],[2.55,8],[1.6,25.5],[1.7,31.6]];
const dUpDense = [[1.55,1.3],[2.6,1.3],[3.5,2],[3.4,5],[2.4,6.5],[2.2,11],[1.9,16],[1.7,21],[1.55,24]];
const dGray = [[-1.5,53.5],[-1.4,47],[-1.3,41],[-1.2,40],[-1.3,38],[-1.1,36],[-1.2,35],[-1.4,39.5],[-1.15,33],[1.2,49],[1.45,48],[1.4,45.5],[1.2,43.5],[1.35,42],[1.45,44],[1.25,38],[1.1,33],[1.3,35.5]];
const dGrayLeft = [[-0.1,1.3],[-0.4,10],[-0.8,21],[-1.1,28],[-1.3,33],[-1.5,36],[-1.5,1.3]];
const dGrayRight = [[0.1,1.3],[1.5,1.3],[1.5,40],[1.4,37],[1.3,30],[0.95,28],[0.8,22],[0.6,13],[0.3,6]];

// ---------- Panel E values ----------
const eDown = [[-4.6,100],[-4.1,100],[-3.5,100],[-2.9,100],[-2.5,100],[-2.4,100],[-2.1,100],[-2,100],[-1.8,100],[-1.65,100],[-1.55,100],
[-4.1,97.9],[-1.6,97.7],[-3.3,91.5],[-1.8,89.2],[-4.3,84.5],[-2.2,83.5],[-1.6,81.1],[-3.8,78.3],[-1.6,75.9],[-1.9,69.1],[-3.4,66.9],[-3,65.3],[-2.3,65.9],[-2,63.8],[-1.8,62.6],[-1.6,62.6],[-2.1,62.3],[-1.6,61.1],[-2,60],[-1.6,58.4],[-2,57.5],[-1.9,55.8],[-1.5,55.8],[-1.9,54],[-4.3,48.5],[-2.6,49.2],[-1.8,49.4],[-1.6,48.9],[-1.8,46.5],[-1.6,46.3],[-2,43.5],[-1.6,40.6],[-1.6,39.7],[-3.3,38.5],[-2.3,39],[-4.1,36.6],[-2.4,36.7],[-2.1,37.7],[-1.9,36.1],[-1.6,36.3],[-6.3,35],[-2.9,35.1],[-2.3,35],[-2.6,33.3],[-2.3,33.3],[-2.7,31.4],[-1.7,29.1],[-2.4,29.5],[-1.6,29.4],[-1.6,27.8],[-4.2,26],[-4.6,25.4],[-4.4,25],[-2.4,26.2],[-2,26.2],[-1.9,25.5],[-1.7,24.6],[-3.6,23.6],[-3.4,23.4],[-4.2,23.3],[-2.8,23.9],[-2.5,23.6],[-1.8,23.8],[-3.2,22.1],[-2.5,21.6],[-2.2,22.1],[-1.9,21.2],[-3.2,20.7],[-7.1,19.1],[-5.7,18.4],[-4.5,18.2],[-3.8,17.7],[-3.3,18.2],[-3,17.3],[-2.6,17.3],[-2,16.8],[-1.7,16.8],[-3.4,16.3],[-3,15.5],[-3.5,14.8],[-2,15.3],[-2.2,13.8],[-4.5,12.8],[-3.3,12.7],[-2.7,12.9],[-2.8,11.4],[-3.5,12.1],[-2,12.9],[-6.3,10.9],[-5.2,11],[-4.9,11],[-4.7,11.2],[-4.4,9.5],[-3.6,9.6],[-2.9,10.4],[-2.2,11.4],[-10.2,10.5],[-9.7,9.4],[-6.5,8],[-5.6,7.9],[-5,7.9],[-4.4,7.8],[-8.7,7.3],[-8.6,7.1],[-8,5.8],[-7.8,5.6],[-7.5,5.1],[-7.1,4.8],[-6.9,4.1],[-6.5,3.3],[-6,2.9],[-5.9,2.3],[-5.4,5.1],[-4.7,6.7],[-5,4.1],[-4.7,3.4],[-5,2.3],[-4.8,2.1],[-4.5,1.9],[-4.4,2.6],[-4.1,3.1],[-3.8,5.1],[-3.6,5.1],[-3.3,5.1],[-2.9,5.6],[-3.9,2.1],[-4,4.1],[-2.7,8],[-2.4,8.5],[-2.6,6],[-2.2,5.6],
[-2.15,9.8],[-2.3,7],[-2.45,10.2],[-2.55,12],[-2.1,14.9],[-2.35,12.3],[-3.1,4],[-3.4,4.2],[-2.8,4.2],[-2.5,4.6],[-2.15,4.3],[-3.7,3.5],[-3.05,7.2],[-3.3,9]];
const eDownDense = [[-1.55,1.3],[-3.6,1.3],[-3.3,3.2],[-2.2,3.2],[-2,7],[-1.9,12],[-1.55,16]];
const eUp = [[1.6,100],[1.75,100],[1.9,100],[2.05,100],[2.2,100],[2.35,100],[2.5,100],[2.65,100],[2.8,100],[2.95,100],[3.1,100],[3.25,100],[3.4,100],[3.55,100],[3.7,100],[3.85,100],[4,100],[4.15,100],[4.3,100],[4.45,100],[4.6,100],[5.1,100],[5.2,100],[5.7,100],[5.8,100],[6,100],[6.1,100],
[2.2,96.2],[2.4,94.4],[1.8,93.8],[1.55,93],[3.8,93.5],[3.9,93],[1.9,91.8],[4.1,91.8],[5.9,91],[3.4,89.9],[2.3,89.2],[2.5,89.1],[2.2,88.4],[1.55,86.7],[1.65,86.5],[2.3,86.4],[3.6,83.7],[1.5,82.8],[4.7,81.9],[5.1,81.8],[3.4,81.1],[3.5,80.3],[2.6,80.8],[2.1,79.9],[4.3,79.2],[1.8,78.7],[1.7,78],[1.55,77],[6.7,76.4],[4.2,75],[3.1,73.3],[1.9,72.3],[1.95,71.6],[1.55,71],[2.7,69.6],[3.2,68.3],[1.9,67.4],[1.95,65.5],[1.55,64.3],[2.5,62],[4.3,61.2],[4.1,59.6],[1.65,60.1],[1.55,58.5],[1.8,58.5],[2.3,57.9],[2.9,57.1],[2.8,56.7],[4.1,57.2],[1.65,55.3],[2,55.3],[3.2,53.8],[3.4,52.8],[5.1,52.5],[2.7,52.1],[2.4,52],[2,51.6],[3.6,50.6],[4,50.6],[4.5,50.7],[1.95,49.4],[1.65,48.9],[4.2,48],[5.7,47],[5.7,45.7],[5.3,44.4],[4,45.5],[1.65,46],[1.95,43.8],[1.55,43.1],[2.3,43.4],[2.8,42.8],[4.2,42.1],[2.8,40.8],[4.8,40.4],[4.1,40],[3.7,37.9],[5.7,38.5],[5.5,37.5],[2.8,37.7],[3,37.7],[1.9,37.7],[4.9,37.7],[5.1,37.5],[1.75,36.3],[2.4,35.8],[3.8,35.6],[4.5,36.5],[4.8,35],[4.9,34.3],[5.8,35],[5.7,32.7],[2.1,34.8],[3.1,32.4],[1.65,31.9],[2.8,30.9],[3.1,30.7],[3.8,30.2],[3.9,29.4],[1.9,30.4],[2.1,29.9],[2.4,28.5],[3.2,27.7],[2.5,27.5],[4.3,26.5],[4,25.7],[1.65,28],[2,26.5],[1.65,25.5],[2.65,25.5],[2.9,24.1],[5.4,24.1],[5.3,22.9],[5.8,23.3],[4.9,22.4],[4.2,22.9],[3.5,21.3],[3.1,21.6],[1.75,22.1],[2.4,21.6],[3.1,19.7],[3.5,18.2],[5,17.6],[5.8,17.5],[3.3,17.9],[2.1,18.7],[4.2,16.8],[4,16.3],[3,16.3],[2.65,14.8],[3.9,13.8],[7,14.1],[6.9,13.4],[6.6,12.4],[6.1,13],[6.3,10.9],[5.9,9.3],[5.3,11.4],[5,11.2],[4.4,10.2],[4.5,8.5],[5.1,9],[9.9,9.9],[9.3,8.6],[8.2,7],[6.3,7.2],[4.2,7.3],[3.7,11.9],[3.3,10.9],[2.65,13.4],[3,12.4],[2.3,13.8],[7.3,5.4],[7.3,4.9],[6.9,4.1],[6.7,3.8],[6.3,3.6],[6.1,3.1],[5.8,3.1],[5.5,5.6],[5.3,4.6],[5.1,4.1],[4.8,4.6],[4.9,3.1],[4.5,3.6],[5.2,2.6],[5,2.1],[4.7,1.6],[4.2,2.6],[4.3,5.6],[3.9,4.6],[4,2.6],[3.7,3.6],[2.2,17],[2.5,19],[1.8,16],[2.2,24],[2.7,10],[3.4,8],[3.6,6],[2.3,11],
[2.05,15],[2.25,20],[2.55,16.5],[2.85,14],[2.4,9.3],[3.1,7.5],[3.25,5.5],[3.5,4.3],[2.85,8.7],[2,22.5],[1.85,24],[1.7,26.5],[1.95,28],[2.2,26.5],[2.75,19],[2.85,21.8],[3.15,14.7],[3.45,13],[3.9,8.5],[4.05,10.4],[3.55,2.6],[3.3,3.4],[2.6,11.9],[2.15,12.4]];
const eUpDense = [[1.6,1.3],[3.2,1.3],[3,4],[2.6,7],[2,8],[1.9,14],[1.7,20],[1.6,22]];
const eGray = [[-1.4,89.5],[-1.4,84.5],[-1.45,80],[-1.5,75],[-1.5,72],[-1.2,66.5],[-1.4,65],[-1.3,62.5],[-1.3,60],[-1.2,56],[-1.15,54],[-1.2,51],[-1.15,49],[-1.2,47],[-1.3,45],[-1.1,45],[-1.3,42],[-1.2,41],[-1.25,52.5],[-1.1,50.5],[-1.25,48],[-1.35,44],[-1.15,43],[-1.4,40],[-1.05,39],[1.45,100],[1.45,97.5],[1.4,86],[1.45,82.5],[1.45,73.5],[1.25,68],[1.1,66],[1.3,63],[1.3,59],[1.2,57.5],[1.15,55],[1.25,53],[1.3,58],[1.25,56]];
const eGrayLeft = [[-0.05,1.3],[-0.9,27],[-1.1,33],[-1.3,38],[-1.55,38],[-1.55,1.3]];
const eGrayRight = [[0.1,1.3],[1.55,1.3],[1.55,43],[1.2,51],[1,51],[1.1,42],[0.9,32],[0.75,27]];

// ---------- Layout (pixels only) ----------
const volcanoLayoutA = {x0:550,ux:20.83,y0:616,uy:4.83,left:268,top:109,right:840,bottom:617,box:'#8f8f8f',r:3.6};
const volcanoLayoutB = {x0:557,ux:28.93,y0:1327,uy:11.96,left:254,top:820,right:840,bottom:1328,box:'#555555',r:3.4};
const volcanoLayoutC = {x0:538.4,ux:24.6,y0:2036,uy:4.81,left:271.5,top:1530,right:842,bottom:2036,box:'#c6c6c6',r:3.4};
const volcanoLayoutD = {x0:542.4,ux:28.25,y0:2744.6,uy:4.81,left:274,top:2238,right:844,bottom:2745,box:'#6a6a6a',r:3.4};
const volcanoLayoutE = {x0:566,ux:25.77,y0:3463.7,uy:4.807,left:276.7,top:2957,right:848,bottom:3464,box:'#666666',r:3.4};

const pieLayoutA = {cx:1278,cy:368,r:291,legendSquare:1647,legendText:1669,legendY:[223.5,300,378.5,456,534,611],
  labels:[[1477,497],[1033,385],[960,297],[968,248],[950,201],[1150,162]],leaders:[]};
const pieLayoutB = {cx:1278.5,cy:1095,r:291,legendSquare:1647,legendText:1669,legendY:[950.5,1027,1105,1182,1260,1337],
  labels:[[1399,1295],[1110,913],[950,864],[1038,830],[1105,812],[1218,849]],
  leaders:['984,874 1002,874 1130,844','1071,839 1088,839 1130,843']};
const pieLayoutC = {cx:1287,cy:1836.5,r:298,legendSquare:1661,legendText:1684,legendY:[1691,1768,1846,1925,2003,2081],
  labels:[[1415,2039],[1106,1658],[1080,1572],[1074,1502],[1108,1551],[1228,1586]],
  leaders:['1109,1512.5 1125.5,1512.5 1125.5,1586']};
const pieLayoutD = {cx:1282.6,cy:2537.4,r:293,legendSquare:1658,legendText:1681,legendY:[2387.5,2467.5,2548,2628,2708,2788],
  labels:[[1471,2686],[1041,2505],[992,2364],[975,2289],[983,2233],[1183,2315]],
  leaders:['1019,2242 1035,2242 1050,2358','1010,2298 1026,2298 1038,2377']};
const pieLayoutE = {cx:1291,cy:3260,r:300,legendSquare:1674,legendText:1696.5,legendY:[3108,3189,3270,3351,3432,3513],
  labels:[[1466,3431],[1046,3177],[1011,3043],[993,2990],[996,2933],[1204,3021]],
  leaders:['1031,2941 1048,2941 1088,3037','1027,2999 1045,2999 1067,3057']};

// ---------- Drawing ----------
const SVGNS = 'http://www.w3.org/2000/svg';
const plotsRoot = document.getElementById('plots');
function mk(parent, tag, attrs, text){
  const el = document.createElementNS(SVGNS, tag);
  for (const k in attrs) el.setAttribute(k, attrs[k]);
  if (text !== undefined) el.textContent = text;
  parent.appendChild(el);
  return el;
}
function polyString(pts, sx, sy){
  return pts.map(function(p){ return sx(p[0]) + ',' + sy(p[1]); }).join(' ');
}
function drawVolcano(layout, xTicks, yTicks, gray, grayLeft, grayRight, down, downDense, up, upDense){
  const sx = function(v){ return layout.x0 + v * layout.ux; };
  const sy = function(v){ return layout.y0 - v * layout.uy; };
  const g = mk(plotsRoot, 'g', {});
  
  

  const frame = mk(g, 'rect', {x:layout.left, y:layout.top, width:layout.right-layout.left, height:layout.bottom-layout.top, fill:'#fff', stroke:layout.box, 'stroke-width':2.5});
  
  

  const xAxis = mk(g, 'line', {x1:layout.left, x2:layout.right, y1:layout.bottom, y2:layout.bottom, stroke:'#444', 'stroke-width':2.4});
  
  
  const yAxis = mk(g, 'line', {x1:layout.left, x2:layout.left, y1:layout.top, y2:layout.bottom, stroke:'#555', 'stroke-width':2});
  
  

  xTicks.forEach(function(t){
    const tick = mk(g, 'line', {x1:sx(t), x2:sx(t), y1:layout.bottom, y2:layout.bottom+4, stroke:'#444', 'stroke-width':1.6});
    
    
    const label = mk(g, 'text', {class:'tk', x:sx(t), y:layout.bottom+25, 'text-anchor':'middle'}, (t < 0 ? '−' + (-t) : String(t)));
    
    
  });
  yTicks.forEach(function(t){
    const tick = mk(g, 'line', {x1:layout.left-4, x2:layout.left, y1:sy(t), y2:sy(t), stroke:'#444', 'stroke-width':1.6});
    
    
    const label = mk(g, 'text', {class:'tk', x:layout.left-5, y:sy(t)+8, 'text-anchor':'end'}, String(t));
    
    
  });

  thresholdFC.forEach(function(v){
    const l = mk(g, 'line', {x1:sx(v), x2:sx(v), y1:layout.top, y2:layout.bottom, stroke:'#a8a8a8', 'stroke-width':2});
    
    
  });
  const hl = mk(g, 'line', {x1:layout.left+3, x2:layout.right-3, y1:sy(thresholdP), y2:sy(thresholdP), stroke:'#b4b4b4', 'stroke-width':2, 'stroke-dasharray':'9 2'});
  
  

  [grayLeft, grayRight].forEach(function(pts){
    const cone = mk(g, 'polygon', {points:polyString(pts, sx, sy), fill:'#b4b4b4', stroke:'#b4b4b4', 'stroke-width':2, 'stroke-linejoin':'round'});
    
    
  });
  gray.forEach(function(p){
    const c = mk(g, 'circle', {cx:sx(p[0]), cy:sy(p[1]), r:layout.r-0.6, fill:'#bcbcbc'});
    
    
  });

  const downArea = mk(g, 'polygon', {points:polyString(downDense, sx, sy), fill:'#0000f5', stroke:'#0000f5', 'stroke-width':3, 'stroke-linejoin':'round'});
  
  
  down.forEach(function(p){
    const c = mk(g, 'circle', {cx:sx(p[0]), cy:sy(p[1]), r:layout.r, fill:'#0000f5'});
    
    
  });

  const upArea = mk(g, 'polygon', {points:polyString(upDense, sx, sy), fill:'#fa0000', stroke:'#fa0000', 'stroke-width':3, 'stroke-linejoin':'round'});
  
  
  up.forEach(function(p){
    const c = mk(g, 'circle', {cx:sx(p[0]), cy:sy(p[1]), r:layout.r, fill:'#fa0000'});
    
    
  });
}
function drawPie(layout, values, labels){
  const g = mk(plotsRoot, 'g', {});
  
  
  const total = values.reduce(function(a,b){ return a+b; }, 0);
  let acc = 0;
  values.forEach(function(v, i){
    const a0 = (acc/total)*2*Math.PI - Math.PI/2;
    acc += v;
    const a1 = (acc/total)*2*Math.PI - Math.PI/2;
    const large = (a1-a0) > Math.PI ? 1 : 0;
    const d = 'M' + layout.cx + ' ' + layout.cy +
      'L' + (layout.cx + layout.r*Math.cos(a0)) + ' ' + (layout.cy + layout.r*Math.sin(a0)) +
      'A' + layout.r + ' ' + layout.r + ' 0 ' + large + ' 1 ' + (layout.cx + layout.r*Math.cos(a1)) + ' ' + (layout.cy + layout.r*Math.sin(a1)) + 'Z';
    const s = mk(g, 'path', {d:d, fill:biotypeColors[i], stroke:'#fff', 'stroke-width':5, 'stroke-linejoin':'round'});
    
    
  });
  layout.leaders.forEach(function(pts){
    const l = mk(g, 'polyline', {points:pts, fill:'none', stroke:'#a6a6a6', 'stroke-width':1.8});
    
    
  });
  labels.forEach(function(text, i){
    const pos = layout.labels[i];
    const t = mk(g, 'text', {class:'pl', x:pos[0], y:pos[1]+12, 'text-anchor':'middle'}, text);
    
    
  });
  biotypeNames.forEach(function(name, i){
    const y = layout.legendY[i];
    const sq = mk(g, 'rect', {x:layout.legendSquare, y:y-6-3, width:12, height:12, fill:biotypeColors[i]});
    
    
    const t = mk(g, 'text', {class:'pg', x:layout.legendText, y:y+10}, name);
    
    
  });
}

drawVolcano(volcanoLayoutA, xTicksA, yTicks105, aGray, aGrayLeft, aGrayRight, aDown, aDownDense, aUp, aUpDense);
drawVolcano(volcanoLayoutB, xTicksB, yTicks40, bGray, bGrayLeft, bGrayRight, bDown, bDownDense, bUp, bUpDense);
drawVolcano(volcanoLayoutC, xTicksC, yTicks105, cGray, cGrayLeft, cGrayRight, cDown, cDownDense, cUp, cUpDense);
drawVolcano(volcanoLayoutD, xTicksD, yTicks105, dGray, dGrayLeft, dGrayRight, dDown, dDownDense, dUp, dUpDense);
drawVolcano(volcanoLayoutE, xTicksE, yTicks105, eGray, eGrayLeft, eGrayRight, eDown, eDownDense, eUp, eUpDense);
drawPie(pieLayoutA, pieAValues, pieALabels);
drawPie(pieLayoutB, pieBValues, pieBLabels);
drawPie(pieLayoutC, pieCValues, pieCLabels);
drawPie(pieLayoutD, pieDValues, pieDLabels);
drawPie(pieLayoutE, pieEValues, pieELabels);
</script>
</body>
</html>
